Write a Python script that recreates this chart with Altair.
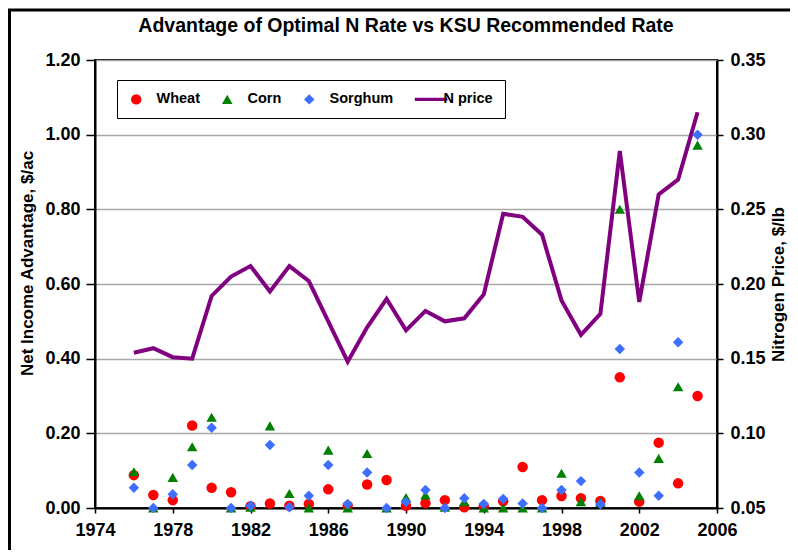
import altair as alt
import pandas as pd

years = list(range(1976, 2006))
wheat = [0.088, 0.035, 0.021, 0.221, 0.054, 0.042, 0.005, 0.012, 0.006, 0.011,
         0.050, 0.006, 0.063, 0.075, 0.006, 0.013, 0.021, 0.002, 0.005, 0.018,
         0.110, 0.021, 0.032, 0.026, 0.019, 0.350, 0.017, 0.175, 0.066, 0.300]
corn = [0.097, 0.000, 0.082, 0.164, 0.243, 0.000, 0.002, 0.220, 0.039, 0.000,
        0.155, 0.000, 0.146, 0.000, 0.028, 0.035, 0.002, 0.017, 0.000, 0.000,
        0.000, 0.000, 0.093, 0.017, 0.015, 0.800, 0.033, 0.133, 0.325, 0.972]
sorghum = [0.054, 0.000, 0.037, 0.115, 0.215, 0.000, 0.006, 0.169, 0.002, 0.033,
           0.115, 0.011, 0.095, 0.000, 0.016, 0.048, 0.000, 0.026, 0.011, 0.024,
           0.012, 0.000, 0.048, 0.072, 0.010, 0.426, 0.095, 0.033, 0.444, 1.000]
n_price = [0.154, 0.157, 0.151, 0.150, 0.192, 0.205, 0.212, 0.195, 0.212, 0.202,
           0.175, 0.148, 0.171, 0.190, 0.169, 0.182, 0.175, 0.177, 0.193, 0.247,
           0.245, 0.233, 0.189, 0.166, 0.180, 0.289, 0.188, 0.260, 0.270, 0.315]

series = ["Wheat", "Corn", "Sorghum", "N price"]
colors = ["#FF0000", "#008000", "#3D6FFF", "#800080"]
shapes = ["circle", "triangle-up", "diamond", "M-1.6,-0.32H4.6V0.32H-1.6Z"]
x_ticks = [1974, 1978, 1982, 1986, 1990, 1994, 1998, 2002, 2006]
left_ticks = [0.0, 0.2, 0.4, 0.6, 0.8, 1.0, 1.2]
right_ticks = [0.05, 0.10, 0.15, 0.20, 0.25, 0.30, 0.35]

rows = []
for name, vals in [("Wheat", wheat), ("Corn", corn), ("Sorghum", sorghum)]:
    for yr, v in zip(years, vals):
        rows.append({"year": yr, "value": v, "series": name})
pts = pd.DataFrame(rows)
line_df = pd.DataFrame({"year": years, "price": n_price})

FONT = "Liberation Sans"

x_enc = alt.X(
    "year:Q",
    scale=alt.Scale(domain=[1974, 2006], nice=False, zero=False),
    axis=alt.Axis(values=x_ticks, format="d", title=None, grid=False,
                  labelFontSize=18, tickSize=5, labelPadding=8, labelFlush=False),
)

# chart-area border (decoration, like the Excel chart frame)
frame = alt.Chart(pd.DataFrame({"k": [0]})).mark_rect(
    fill=None, stroke="black", strokeWidth=3
).encode(
    x=alt.value(-85.5), x2=alt.value(720), y=alt.value(-50), y2=alt.value(520)
)

line = alt.Chart(line_df).mark_line(color="#800080", strokeWidth=4).encode(
    x=x_enc,
    y=alt.Y(
        "price:Q",
        scale=alt.Scale(domain=[0.05, 0.35], nice=False, zero=False),
        axis=alt.Axis(orient="right", values=right_ticks, format=".2f",
                      title="Nitrogen Price, $/lb", titleAngle=270, titleBaseline="top",
                      titlePadding=5, grid=False, labelFontSize=18, tickSize=6,
                      labelPadding=7, titleFontSize=17),
    ),
)

leg = alt.Legend(
    title=None, orient="none", legendX=22, legendY=20, direction="horizontal",
    columns=4, fillColor="white", strokeColor="black", padding=12,
    symbolSize=110, labelFont=FONT, labelFontSize=14.5, labelFontWeight="bold",
    labelOffset=13, columnPadding=20, symbolStrokeWidth=0, labelColor="black",
    labelExpr="datum.label === 'N price' ? '\u00a0\u00a0N price' : datum.label",
)

points = alt.Chart(pts).mark_point(filled=True, size=110, opacity=1).encode(
    x=x_enc,
    y=alt.Y(
        "value:Q",
        scale=alt.Scale(domain=[0, 1.2], nice=False),
        axis=alt.Axis(orient="left", values=left_ticks, format=".2f",
                      title="Net Income Advantage, $/ac", titlePadding=8,
                      titleY=203, grid=True, labelFontSize=18, tickSize=9,
                      labelPadding=6, titleFontSize=17),
    ),
    color=alt.Color("series:N", scale=alt.Scale(domain=series, range=colors), legend=leg),
    shape=alt.Shape("series:N", scale=alt.Scale(domain=series, range=shapes), legend=leg),
)

chart = (
    alt.layer(frame, line, points)
    .resolve_scale(y="independent")
    .properties(
        width=622, height=448,
        title=alt.TitleParams("Advantage of Optimal N Rate vs KSU Recommended Rate",
                              frame="group", anchor="middle", offset=22, dy=50),
        autosize=alt.AutoSizeParams(type="none"),
        padding={"left": 87, "top": 52, "right": 73, "bottom": 42},
    )
    .configure_axis(labelFont=FONT, labelFontWeight="bold", titleFont=FONT,
                    titleFontWeight="bold", labelColor="black", titleColor="black",
                    domainColor="black", domainWidth=2, tickColor="black",
                    tickWidth=1.5, gridColor="#a8a8a8", gridWidth=1.5)
    .configure_view(stroke="black", strokeWidth=2)
    .configure_legend(strokeWidth=1)
    .configure_title(font=FONT, fontSize=19.5, fontWeight="bold", color="black")
)

chart.save("out.html", embed_options={"renderer": "svg", "actions": False})
